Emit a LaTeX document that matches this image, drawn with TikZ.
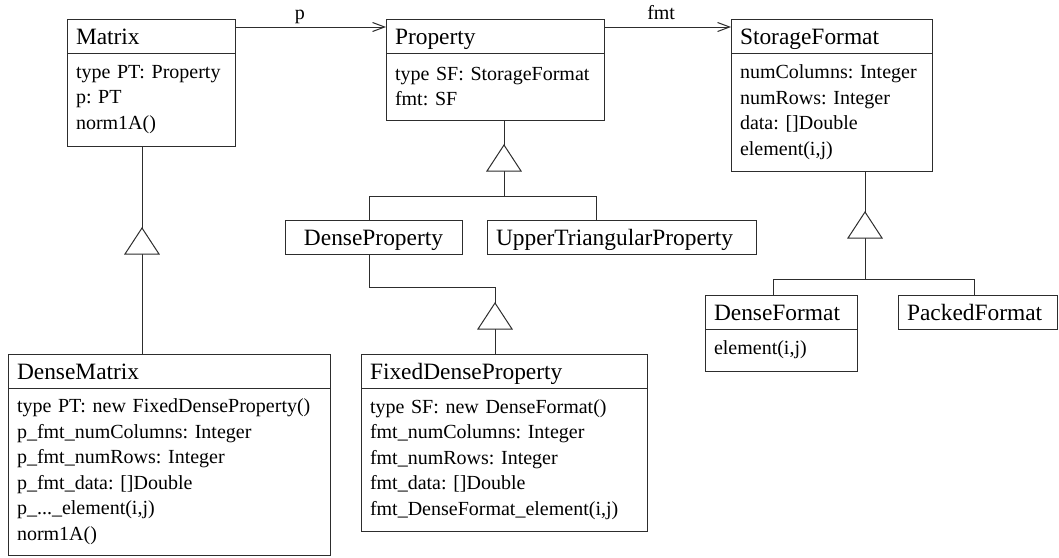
\documentclass[tikz,border=0pt]{standalone}
\usepackage{fontspec}
\setmainfont{Liberation Serif}
\usepackage{tikz}
\usetikzlibrary{arrows.meta,positioning,calc}
\frenchspacing
\definecolor{umlline}{RGB}{45,45,45}
\newcommand{\umlheadfont}{\fontsize{23.4}{28}\selectfont}
\newcommand{\umlbodyfont}{\fontsize{20}{25.5}\selectfont}
\tikzset{
  classhead/.style={draw=umlline,line width=1pt,anchor=north west,outer sep=0pt,inner xsep=9pt,inner ysep=0pt,minimum height=34pt,text height=19pt,text depth=2pt,align=left,font=\umlheadfont},
  classbody/.style={draw=umlline,line width=1pt,outer sep=0pt,inner xsep=9pt,inner ysep=0pt,align=left,font=\umlbodyfont},
  link/.style={draw=umlline,line width=1pt},
  gentri/.style={draw=umlline,line width=1pt,fill=white,line join=miter},
  assoc/.style={-{Straight Barb[length=12pt,width=9pt]},draw=umlline,line width=1pt},
  rolelabel/.style={font=\umlbodyfont,inner sep=2pt,text depth=5pt}
}

\begin{document}
\begin{tikzpicture}[x=1pt,y=-1pt]
\useasboundingbox (0,0) rectangle (1059,557);

% top row
\node[classhead,text width=150pt] (mhead) at (67,19) {Matrix};
\node[classbody,below=0pt of mhead,text width=150pt,minimum height=93pt] (mbody)
  {type PT: Property\\ p: PT\\ norm1A()};

\node[classhead,text width=200pt] (phead) at (386,19) {Property};
\node[classbody,below=0pt of phead,text width=200pt,minimum height=67pt] (pbody)
  {type SF: StorageFormat\\ fmt: SF};

\node[classhead,text width=183pt] (sfhead) at (731,19) {StorageFormat};
\node[classbody,below=0pt of sfhead,text width=183pt,minimum height=118pt] (sfbody)
  {numColumns: Integer\\ numRows: Integer\\ data: []Double\\ element(i,j)};

% properties
\node[classhead,text width=159pt,align=center] (dprop) at (285,220) {DenseProperty};
\node[classhead,text width=251pt] (uprop) at (487,220) {UpperTriangularProperty};

% formats
\node[classhead,text width=134pt] (dfhead) at (705,295) {DenseFormat};
\node[classbody,below=0pt of dfhead,text width=134pt,minimum height=42pt] (dfbody)
  {element(i,j)};
\node[classhead,text width=141pt] (pfhead) at (898,295) {PackedFormat};

% bottom row
\node[classhead,text width=304pt] (dmhead) at (8,354) {DenseMatrix};
\node[classbody,below=0pt of dmhead,text width=304pt,minimum height=167pt] (dmbody)
  {type PT: new FixedDenseProperty()\\ p\_fmt\_numColumns: Integer\\ p\_fmt\_numRows: Integer\\
   p\_fmt\_data: []Double\\ p\_...\_element(i,j)\\ norm1A()};

\node[classhead,text width=268pt] (fdhead) at (361,354) {FixedDenseProperty};
\node[classbody,below=0pt of fdhead,text width=268pt,minimum height=143pt] (fdbody)
  {type SF: new DenseFormat()\\ fmt\_numColumns: Integer\\ fmt\_numRows: Integer\\
   fmt\_data: []Double\\ fmt\_DenseFormat\_element(i,j)};

% associations
\draw[assoc] ([yshift=-8pt]mhead.north east) -- ([yshift=-8pt]phead.north west)
  node[rolelabel,pos=0.43,above] (plbl) {p};
\draw[assoc] ([yshift=-8pt]phead.north east) -- ([yshift=-8pt]sfhead.north west)
  node[rolelabel,pos=0.45,above] (fmtlbl) {fmt};

% generalization apexes and forks
\coordinate (ga) at (142,228);
\coordinate (gb) at (504,145);
\coordinate (gc) at (495,303);
\coordinate (gd) at (865,212);
\coordinate (pfork) at (504,196);
\coordinate (dpx) at (369,196);
\coordinate (upx) at (596,196);
\coordinate (fdbend) at (495,287);
\coordinate (sfork) at (865,279);
\coordinate (dfx) at (773,279);
\coordinate (pfx) at (974,279);

\draw[link] (ga |- mbody.south) -- (ga);
\draw[link] ($(ga)+(0,26)$) -- (ga |- dmhead.north);

\draw[link] (gb |- pbody.south) -- (gb);
\draw[link] ($(gb)+(0,26)$) -- (pfork);
\draw[link] (dpx |- dprop.north) -- (dpx) -- (upx) -- (upx |- uprop.north);

\draw[link] (dpx |- dprop.south) |- (fdbend) -- (gc);
\draw[link] ($(gc)+(0,26)$) -- (gc |- fdhead.north);

\draw[link] (gd |- sfbody.south) -- (gd);
\draw[link] ($(gd)+(0,26)$) -- (sfork);
\draw[link] (dfx |- dfhead.north) -- (dfx) -- (pfx) -- (pfx |- pfhead.north);

\foreach \g in {ga,gb,gc,gd}{
  \draw[gentri] (\g) -- ++(17,26) -- ++(-34,0) -- cycle;
}

\end{tikzpicture}
\end{document}
